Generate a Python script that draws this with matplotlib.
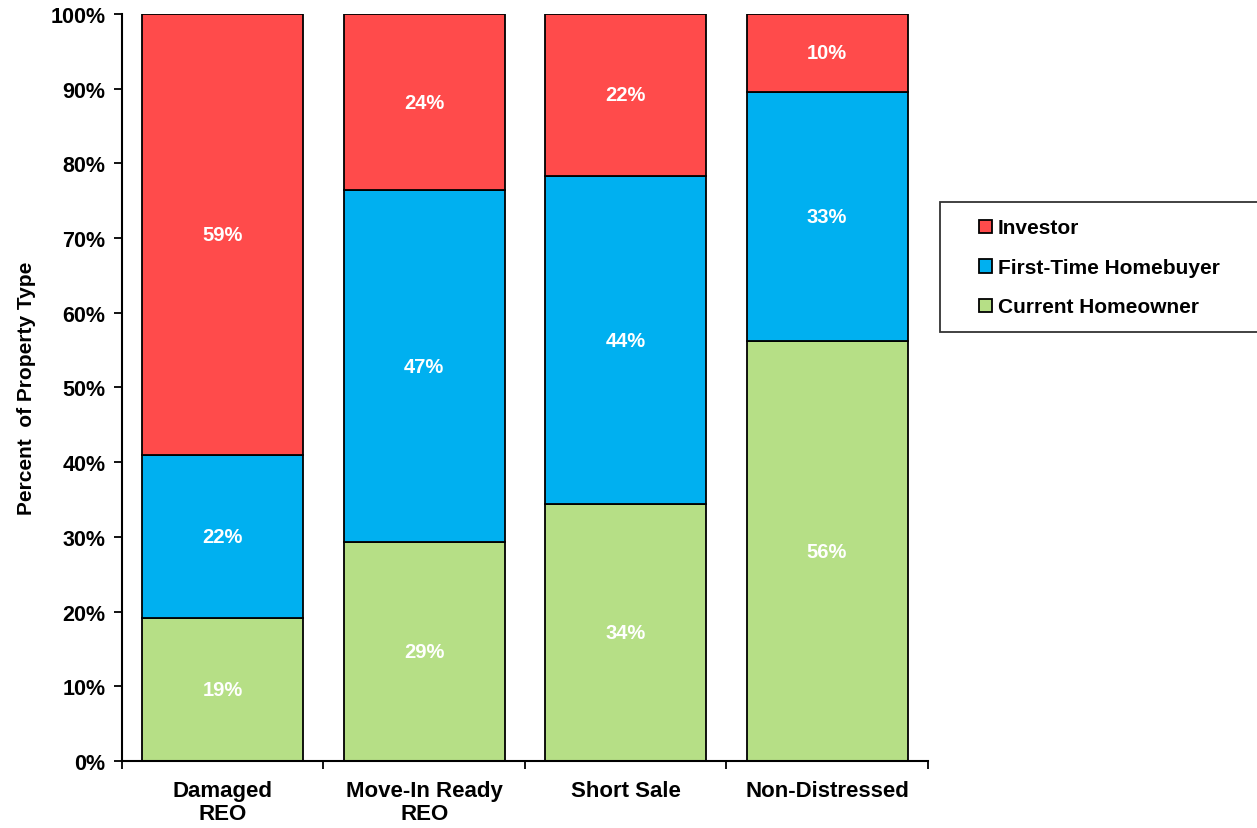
import matplotlib.pyplot as plt
import matplotlib.patches as mpatches
from matplotlib.legend_handler import HandlerPatch
import numpy as np

plt.rcParams["font.family"] = ["Liberation Sans", "DejaVu Sans"]
plt.rcParams["font.weight"] = "bold"

# ── data ──────────────────────────────────────────────────────────────────────
categories = ["Damaged\nREO", "Move-In Ready\nREO", "Short Sale", "Non-Distressed"]
current_owner = [19.1, 29.3, 34.4, 56.2]
first_time = [21.9, 47.1, 43.9, 33.4]
investor = [59.0, 23.6, 21.7, 10.4]

series = [
    ("Current Homeowner", current_owner, "#B6DF86"),
    ("First-Time Homebuyer", first_time, "#00B0F0"),
    ("Investor", investor, "#FF4B4B"),
]


def square_right(legend, orig_handle, xdescent, ydescent, width, height, fontsize):
    # small square key pushed to the right end of the handle box
    side = height * 0.9
    return mpatches.Rectangle((width - side - xdescent, -ydescent), side, side)


# ── figure ────────────────────────────────────────────────────────────────────
fig = plt.figure(figsize=(12.57, 8.29), dpi=100)
ax = fig.add_axes([0.0971, 0.0808, 0.641, 0.9012])

x = np.arange(len(categories))
bottom = np.zeros(len(categories))
handles = []
for name, vals, color in series:
    vals = np.array(vals)
    bars = ax.bar(x, vals, width=0.8, bottom=bottom, color=color,
                  edgecolor="black", linewidth=1.3, label=name)
    handles.append(bars)
    for xi, b, v in zip(x, bottom, vals):
        ax.text(xi, b + v / 2, f"{v:.0f}%", ha="center", va="center",
                color="white", fontsize=14.5, fontweight="bold")
    bottom += vals

ax.set_xlim(-0.5, 3.5)
ax.set_ylim(0, 100)
ax.set_yticks(np.arange(0, 101, 10))
ax.set_yticklabels([f"{t}%" for t in range(0, 101, 10)], fontsize=15.5)
ax.set_xticks(x)
ax.set_xticklabels(categories, fontsize=16, linespacing=1.1)
ax.tick_params(axis="x", which="major", length=0, pad=14)
ax.set_xticks(np.arange(-0.5, 3.6, 1.0), minor=True)
ax.tick_params(axis="x", which="minor", length=6, width=1.3, direction="out")
ax.tick_params(axis="y", length=6, width=1.3, direction="out", pad=6)
for s in ["top", "right"]:
    ax.spines[s].set_visible(False)
for s in ["left", "bottom"]:
    ax.spines[s].set_linewidth(1.5)

ax.set_ylabel("Percent  of Property Type", fontsize=15, fontweight="bold", labelpad=10)

leg_handles = [mpatches.Patch(facecolor=h.patches[0].get_facecolor(),
                              edgecolor="black", linewidth=1.3) for h in handles[::-1]]
leg = fig.legend(leg_handles, [h.get_label() for h in handles[::-1]],
                 handler_map={mpatches.Patch: HandlerPatch(patch_func=square_right)},
                 loc="upper left", bbox_to_anchor=(0.748, 0.607, 0.3, 0.148),
                 mode="expand",
                 fontsize=15, frameon=True, fancybox=False, edgecolor="black",
                 handlelength=1.75, handleheight=0.7, handletextpad=0.25,
                 labelspacing=1.0, borderpad=0.75, borderaxespad=0)
leg.get_frame().set_linewidth(1.3)

fig.savefig("out.png", dpi=100)
